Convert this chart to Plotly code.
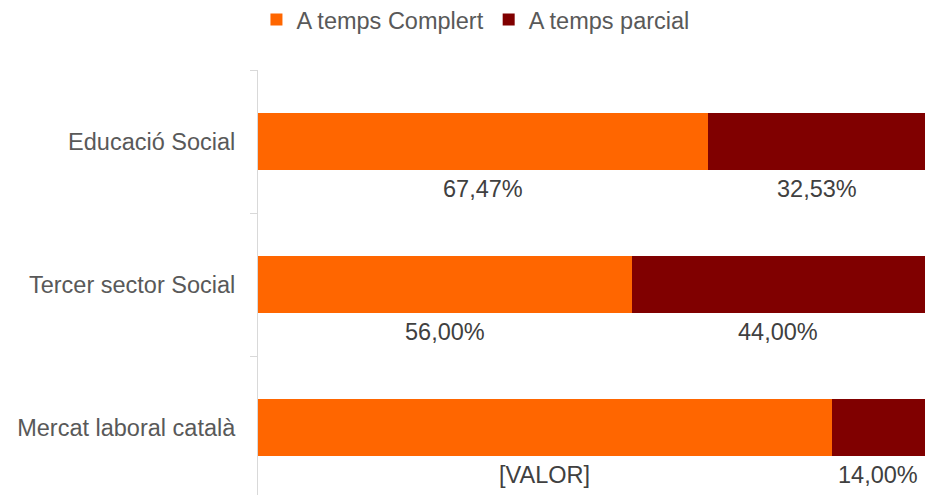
import plotly.graph_objects as go

categories = ["Mercat laboral català", "Tercer sector Social", "Educació Social"]
complert = [86.00, 56.00, 67.47]
parcial = [14.00, 44.00, 32.53]
complert_labels = ["[VALOR]", "56,00%", "67,47%"]
parcial_labels = ["14,00%", "44,00%", "32,53%"]

ORANGE = "#FF6600"
DARKRED = "#800000"
FONT = "Liberation Sans, Arial, sans-serif"

fig = go.Figure()
fig.add_trace(go.Bar(y=categories, x=complert, orientation="h", name="A temps Complert",
                     marker=dict(color=ORANGE, line=dict(width=0)), hoverinfo="skip"))
fig.add_trace(go.Bar(y=categories, x=parcial, orientation="h", name="A temps parcial",
                     marker=dict(color=DARKRED, line=dict(width=0)), hoverinfo="skip"))

annotations = []
for cat, c, p, cl, pl in zip(categories, complert, parcial, complert_labels, parcial_labels):
    annotations.append(dict(x=c / 2, y=cat, xref="x", yref="y", text=cl, showarrow=False,
                            yshift=-47, font=dict(size=23.5, color="#404040", family=FONT)))
    annotations.append(dict(x=c + p / 2, y=cat, xref="x", yref="y", text=pl, showarrow=False,
                            yshift=-47, font=dict(size=23.5, color="#404040", family=FONT)))

fig.update_layout(
    width=925, height=495,
    margin=dict(l=258, r=0, t=70, b=0, autoexpand=False),
    paper_bgcolor="white", plot_bgcolor="white",
    barmode="stack", bargap=0.6,
    font=dict(family=FONT, size=23.5, color="#595959"),
    showlegend=True,
    legend=dict(orientation="h", xref="container", yref="container", x=0.514, xanchor="center",
                y=0.96, yanchor="middle", font=dict(size=23.5, color="#595959"),
                traceorder="normal", itemwidth=30),
    annotations=annotations,
    xaxis=dict(range=[0, 100], visible=False, fixedrange=True, automargin=False),
    yaxis=dict(type="category", categoryorder="array", categoryarray=categories,
               range=[-0.472, 2.5], autorange=False, automargin=False,
               showline=True, linecolor="#d9d9d9", linewidth=1,
               tickson="boundaries", ticks="outside", ticklen=7, tickcolor="#d9d9d9",
               showgrid=False, zeroline=False, ticklabelstandoff=17,
               tickfont=dict(size=23.5, color="#595959", family=FONT)),
)

fig.write_html(
    "out.html",
    config={"displayModeBar": False, "staticPlot": True},
    post_script="document.body.style.margin='0';document.body.style.overflow='hidden';",
)
